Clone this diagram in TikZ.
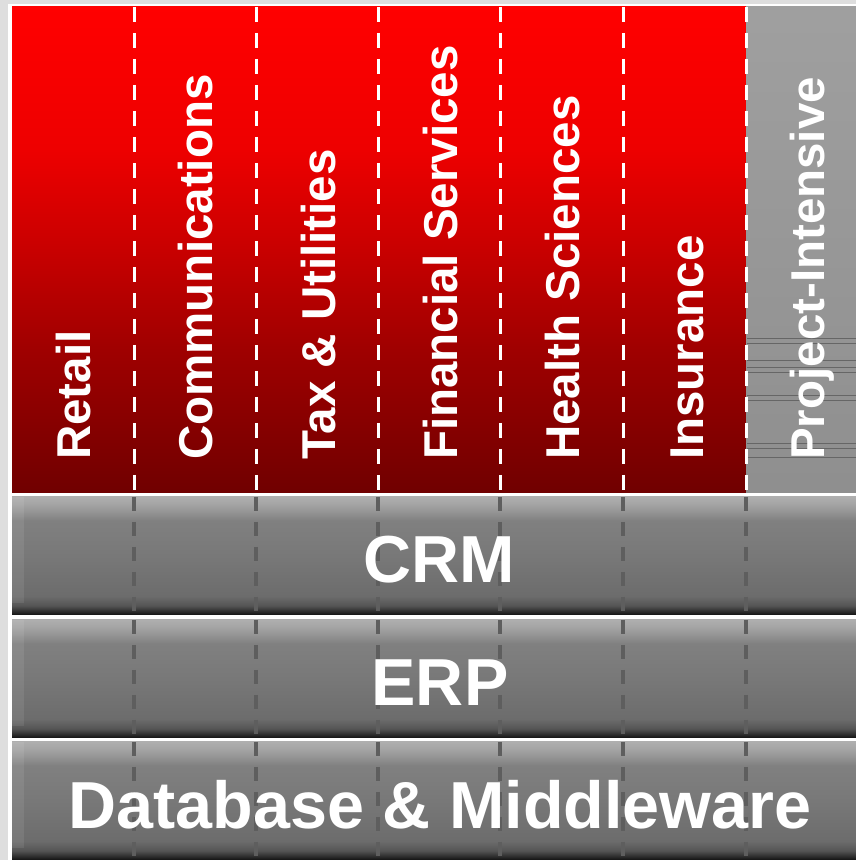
\documentclass[tikz,border=0pt]{standalone}
\usepackage{fontspec}
\setmainfont{Liberation Sans}
\definecolor{edge}{HTML}{DEDEDE}
\definecolor{bandA}{HTML}{111111}
\definecolor{bandB}{HTML}{2C2C2C}
\definecolor{bandC}{HTML}{555555}
\definecolor{bandD}{HTML}{6C6C6C}
\definecolor{bandE}{HTML}{787878}
\definecolor{bandF}{HTML}{808080}
\definecolor{bandG}{HTML}{939393}
\definecolor{bandH}{HTML}{A6A6A6}
\definecolor{bandI}{HTML}{AEAEAE}
\definecolor{redA}{HTML}{700000}
\definecolor{redB}{HTML}{A00000}
\definecolor{redC}{HTML}{C80000}
\definecolor{redD}{HTML}{EE0000}
\definecolor{redE}{HTML}{FF0000}
\definecolor{dashgray}{HTML}{5E5E5E}
\pgfdeclareverticalshading{bandshade}{100bp}{color(0bp)=(bandA); color(25bp)=(bandA);
  color(26.5bp)=(bandB); color(29bp)=(bandC); color(33bp)=(bandD); color(50bp)=(bandE);
  color(65bp)=(bandF); color(68.5bp)=(bandG); color(72.5bp)=(bandH); color(75bp)=(bandI);
  color(100bp)=(bandI)}
\pgfdeclareverticalshading{redshade}{100bp}{color(0bp)=(redA); color(25bp)=(redA);
  color(40bp)=(redB); color(50bp)=(redC); color(60.5bp)=(redD); color(75bp)=(redE);
  color(100bp)=(redE)}
\usetikzlibrary{positioning}
\begin{document}
\begin{tikzpicture}
  [x=1pt,y=1pt,every node/.style={text=white,inner sep=0pt}]
  \tikzstyle{vert} = [rotate=90,anchor=west,text height=34pt,text depth=0pt,
    font=\bfseries\fontsize{47.5}{50}\selectfont]
  \tikzstyle{layer} = [text height=47.5pt,text depth=0pt,
    font=\bfseries\fontsize{66.5}{70}\selectfont]
  \tikzstyle{divider} = [white,line width=3pt,dash pattern=on 15pt off 11pt]
  \tikzstyle{bandline} = [dashgray,line width=3.5pt,dash pattern=on 14pt off 11pt]
  \useasboundingbox (0,0) rectangle (856,860);
  \fill[edge] (0,0) rectangle (856,860);
  \fill[white] (8,0) rectangle (856,856);
  % industry columns
  \shade[shading=redshade] (12,367) rectangle (746,853);
  \shade[top color=gray!75!white,bottom color=gray!88!white] (746,367) rectangle (856,853);
  \foreach \y in {403,412,417,460,465,488,493,500,517,522}
    \draw[black!60,line width=0.7pt] (747,\y) -- (856,\y);
  % layers
  \foreach \ybot in {0,122,245}
  {
    \shade[shading=bandshade] (12,\ybot) rectangle (856,\ybot+118);
    \fill[white,opacity=0.08] (12,\ybot+12) rectangle (24,\ybot+118);
  }
  \foreach \x in {134,256,378,500,623,746}
  {
    \draw[divider] (\x,853) -- (\x,367);
    \foreach \ybot in {0,122,245}
      \draw[bandline] (\x,\ybot+118) -- (\x,\ybot+4);
  }
  \foreach \name/\xpos/\txt in {retail/73/Retail,comm/195/Communications,
      tax/318/Tax \& Utilities,fin/440/Financial Services,health/562/Health Sciences,
      ins/686/Insurance,proj/807/Project-Intensive}
    \node[vert] (\name) at (\xpos,400) {\txt};
  \node[layer] (crm) at (439,301) {CRM};
  \node[layer] (erp) at (440,178) {ERP};
  \node[layer] (db) at (440,55) {Database \& Middleware};
\end{tikzpicture}
\end{document}
